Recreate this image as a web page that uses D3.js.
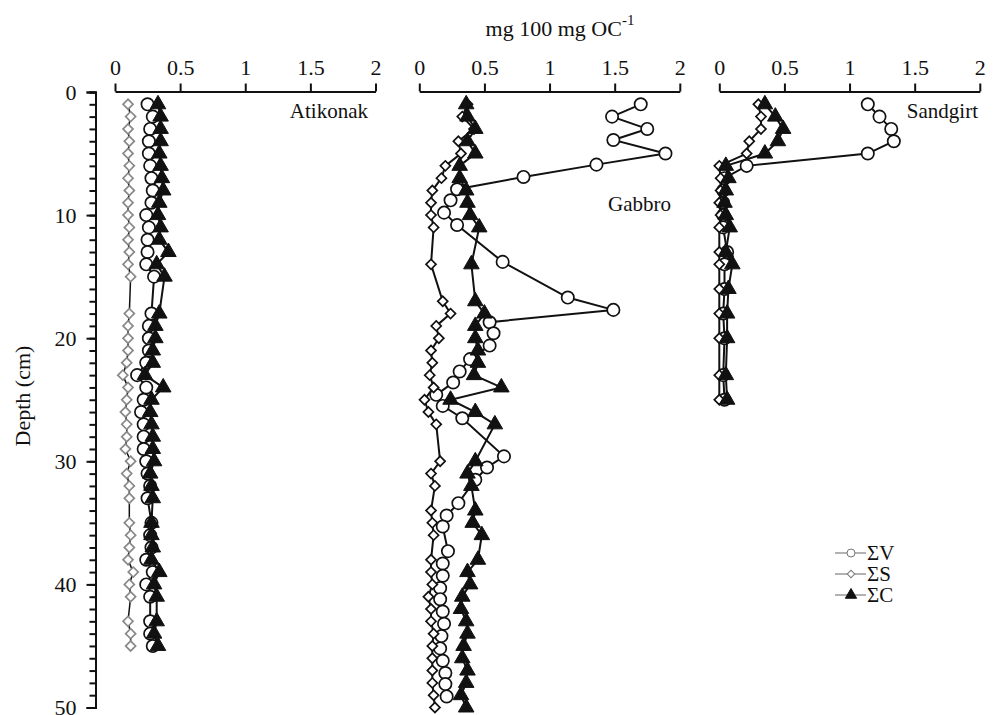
<!DOCTYPE html>
<html>
<head>
<meta charset="utf-8">
<script src="https://cdn.jsdelivr.net/npm/d3@7"></script>
<style>
  body { margin: 0; background: #fff; }
  svg text { font-family: "Liberation Serif", "Times New Roman", serif; fill: #111; }
</style>
</head>
<body>
<div class="chart"></div>
<script>
// depth (cm) and concentration (mg 100 mg OC-1) pairs
var xTicks = [0, 0.5, 1, 1.5, 2]
var depthTicks = [0, 10, 20, 30, 40, 50]
var sites = ["Atikonak", "Gabbro", "Sandgirt"]
var seriesNames = ["ΣV", "ΣS", "ΣC"]

var atikonakV = [[1,0.25],[2,0.29],[3,0.27],[4,0.26],[5,0.26],[6,0.27],[7,0.28],[8,0.29],[9,0.28],[10,0.24],[11,0.26],[12,0.25],[13,0.25],[14,0.24],[15,0.30],[18,0.28],[19,0.26],[20,0.26],[21,0.26],[22,0.24],[23,0.17],[24,0.24],[25,0.22],[26,0.20],[27,0.22],[28,0.22],[29,0.22],[30,0.24],[31,0.25],[32,0.27],[33,0.25],[35,0.28],[36,0.27],[37,0.28],[38,0.24],[39,0.29],[40,0.24],[41,0.27],[43,0.27],[44,0.27],[45,0.29]]
var atikonakS = [[1,0.10],[2,0.12],[3,0.10],[4,0.11],[5,0.10],[6,0.11],[7,0.10],[8,0.11],[9,0.10],[10,0.10],[11,0.11],[12,0.10],[13,0.11],[14,0.10],[15,0.12],[18,0.11],[19,0.10],[20,0.10],[21,0.10],[22,0.09],[23,0.06],[24,0.10],[25,0.09],[26,0.08],[27,0.09],[28,0.09],[29,0.08],[30,0.12],[31,0.09],[32,0.11],[33,0.11],[35,0.11],[36,0.12],[37,0.11],[38,0.10],[39,0.14],[40,0.11],[41,0.12],[43,0.10],[44,0.12],[45,0.12]]
var atikonakC = [[1,0.33],[2,0.35],[3,0.35],[4,0.35],[5,0.34],[6,0.35],[7,0.36],[8,0.37],[9,0.34],[10,0.33],[11,0.35],[12,0.34],[13,0.41],[14,0.32],[15,0.38],[18,0.34],[19,0.31],[20,0.31],[21,0.29],[22,0.29],[23,0.23],[24,0.37],[25,0.28],[26,0.27],[27,0.28],[28,0.29],[29,0.29],[30,0.30],[31,0.27],[32,0.28],[33,0.29],[35,0.28],[36,0.28],[37,0.29],[38,0.28],[39,0.34],[40,0.30],[41,0.32],[43,0.32],[44,0.30],[45,0.33]]

var gabbroV = [[1.0,1.70],[2.0,1.48],[3.0,1.75],[3.9,1.49],[5.0,1.89],[5.9,1.36],[6.9,0.80],[7.9,0.29],[8.8,0.24],[9.8,0.19],[10.8,0.29],[13.8,0.64],[16.7,1.14],[17.7,1.49],[18.7,0.54],[19.6,0.57],[20.6,0.54],[21.7,0.39],[22.7,0.31],[23.6,0.26],[24.6,0.13],[25.5,0.18],[26.5,0.33],[29.6,0.65],[30.5,0.52],[31.5,0.43],[33.4,0.30],[34.4,0.21],[35.3,0.18],[37.3,0.22],[38.3,0.18],[39.3,0.18],[40.3,0.16],[41.2,0.16],[42.2,0.18],[43.2,0.19],[44.2,0.17],[45.2,0.16],[46.2,0.18],[47.2,0.20],[48.1,0.20],[49.1,0.21]]
var gabbroS = [[1,0.37],[2,0.33],[3,0.42],[4,0.30],[5,0.32],[6,0.20],[7,0.17],[8,0.10],[9,0.09],[10,0.09],[11,0.11],[14,0.09],[17,0.18],[18,0.24],[19,0.13],[20,0.15],[21,0.09],[22,0.10],[23,0.08],[24,0.11],[25,0.04],[26,0.07],[27,0.13],[30,0.16],[31,0.09],[32,0.12],[34,0.09],[35,0.10],[36,0.11],[38,0.09],[39,0.09],[40,0.10],[41,0.07],[42,0.09],[43,0.09],[44,0.11],[45,0.10],[46,0.10],[47,0.10],[48,0.10],[49,0.11],[50,0.12]]
var gabbroC = [[1,0.36],[2,0.37],[3,0.43],[4,0.37],[5,0.43],[6,0.31],[7,0.31],[8,0.36],[9,0.37],[10,0.39],[11,0.46],[14,0.40],[17,0.43],[18,0.50],[19,0.43],[20,0.43],[21,0.45],[22,0.45],[23,0.42],[24,0.63],[25,0.24],[26,0.43],[27,0.58],[30,0.43],[31,0.37],[32,0.40],[34,0.43],[35,0.41],[36,0.48],[38,0.45],[39,0.37],[40,0.39],[41,0.33],[42,0.32],[43,0.36],[44,0.37],[45,0.34],[46,0.33],[47,0.37],[48,0.36],[49,0.32],[50,0.36]]

var sandgirtV = [[1,1.14],[2,1.23],[3,1.32],[4,1.34],[5,1.14],[6,0.21],[7,0.04],[8,0.03],[9,0.03],[10,0.03],[11,0.03],[13,0.06],[14,0.04],[16,0.04],[18,0.03],[20,0.04],[23,0.03],[25,0.04]]
var sandgirtS = [[1,0.30],[2,0.32],[3,0.32],[4,0.23],[5,0.21],[6,0.00],[7,0.01],[8,0.01],[9,0.00],[10,0.01],[11,0.00],[13,0.00],[14,0.00],[16,0.00],[18,0.00],[20,0.00],[23,0.00],[25,0.00]]
var sandgirtC = [[1,0.35],[2,0.43],[3,0.49],[4,0.45],[5,0.35],[6,0.05],[7,0.07],[8,0.05],[9,0.04],[10,0.05],[11,0.08],[13,0.05],[14,0.10],[16,0.07],[18,0.06],[20,0.06],[23,0.05],[25,0.06]]

var siteData = [
  [atikonakV, atikonakS, atikonakC],
  [gabbroV, gabbroS, gabbroC],
  [sandgirtV, sandgirtS, sandgirtC]
]

var width = 999, height = 715
var panelLeft = [115, 419.3, 719.3]
var panelWidth = 260.5
var plotTop = 92, plotBottom = 707.5

var svg = d3.select(".chart").append("svg")
  .attr("width", width)
  .attr("height", height)

var y = d3.scaleLinear().domain([0, 50]).range([plotTop, plotBottom])

var circleSym = d3.symbol().type(d3.symbolCircle).size(Math.PI * 38)
var diamondSym = d3.symbol().type(d3.symbolSquare).size(50)
var triangleSym = d3.symbol().type(d3.symbolTriangle).size(105)

// depth axis with minor ticks every cm
var yAxisG = svg.append("g").attr("transform", "translate(95.5,0)")
yAxisG.call(d3.axisLeft(y).tickValues(d3.range(0, 51, 1)).tickSize(6).tickFormat(""))
yAxisG.append("g").call(d3.axisLeft(y).tickValues(depthTicks).tickSize(9).tickPadding(10).tickFormat(function(d){ return d }))
yAxisG.selectAll("path, line").attr("stroke", "#111").attr("stroke-width", 2)
yAxisG.selectAll("text").style("font-size", "22px").attr("fill", "#111")

svg.append("text")
  .attr("transform", "translate(30,396) rotate(-90)")
  .attr("text-anchor", "middle")
  .style("font-size", "22px")
  .text("Depth (cm)")

var title = svg.append("text")
  .attr("x", 560).attr("y", 36)
  .attr("text-anchor", "middle")
  .style("font-size", "22px")
title.append("tspan").text("mg 100 mg OC")
title.append("tspan").attr("dy", -11).style("font-size", "15px").text("-1")

sites.forEach(function(site, i) {
  var x = d3.scaleLinear().domain([0, 2]).range([panelLeft[i], panelLeft[i] + panelWidth])

  var ax = svg.append("g").attr("transform", "translate(0," + (plotTop - 0.5) + ")")
    .call(d3.axisTop(x).tickValues(xTicks).tickSize(8).tickSizeOuter(0).tickPadding(9)
      .tickFormat(function(d){ return String(d) }))
  ax.selectAll("path, line").attr("stroke", "#111").attr("stroke-width", 2)
  ax.selectAll("text").style("font-size", "22px").attr("fill", "#111")

  var line = d3.line().x(function(d){ return x(d[1]) }).y(function(d){ return y(d[0]) })
  var g = svg.append("g")

  siteData[i].forEach(function(series, k) {
    var faint = (i == 0 && k == 1)
    g.append("path")
      .datum(series)
      .attr("d", line)
      .attr("fill", "none")
      .attr("stroke", "#111")
      .attr("stroke-width", faint ? 1.5 : 2)

    var sym = [circleSym, diamondSym, triangleSym][k]
    g.selectAll(".m" + k)
      .data(series)
      .enter().append("path")
      .attr("class", "m" + k)
      .attr("d", sym)
      .attr("transform", function(d){
        return "translate(" + x(d[1]) + "," + y(d[0]) + ")" + (k == 1 ? " rotate(45)" : "")
      })
      .attr("fill", k == 2 ? "#111" : "#fff")
      .attr("stroke", faint ? "#888" : "#111")
      .attr("stroke-width", k == 2 ? 1 : 1.7)
  })
})

// site labels
svg.append("text").attr("x", 368).attr("y", 118).attr("text-anchor", "end").style("font-size", "21px").text(sites[0])
svg.append("text").attr("x", 608).attr("y", 211).style("font-size", "21px").text(sites[1])
svg.append("text").attr("x", 978).attr("y", 118).attr("text-anchor", "end").style("font-size", "21px").text(sites[2])

// legend
var legend = svg.append("g").attr("transform", "translate(835,553)")
seriesNames.forEach(function(name, k) {
  var row = legend.append("g").attr("transform", "translate(0," + (k * 21) + ")")
  row.append("line").attr("x1", 0).attr("x2", 31).attr("stroke", "#999").attr("stroke-width", 1.5)
  row.append("path")
    .attr("d", [d3.symbol().type(d3.symbolCircle).size(50), d3.symbol().type(d3.symbolSquare).size(28), d3.symbol().type(d3.symbolTriangle).size(55)][k])
    .attr("transform", "translate(16,0)" + (k == 1 ? " rotate(45)" : ""))
    .attr("fill", k == 2 ? "#111" : "#fff")
    .attr("stroke", k == 2 ? "#111" : "#777")
    .attr("stroke-width", 1)
  row.append("text").attr("x", 32).attr("y", 7).style("font-size", "21px").text(name)
})
</script>
</body>
</html>
